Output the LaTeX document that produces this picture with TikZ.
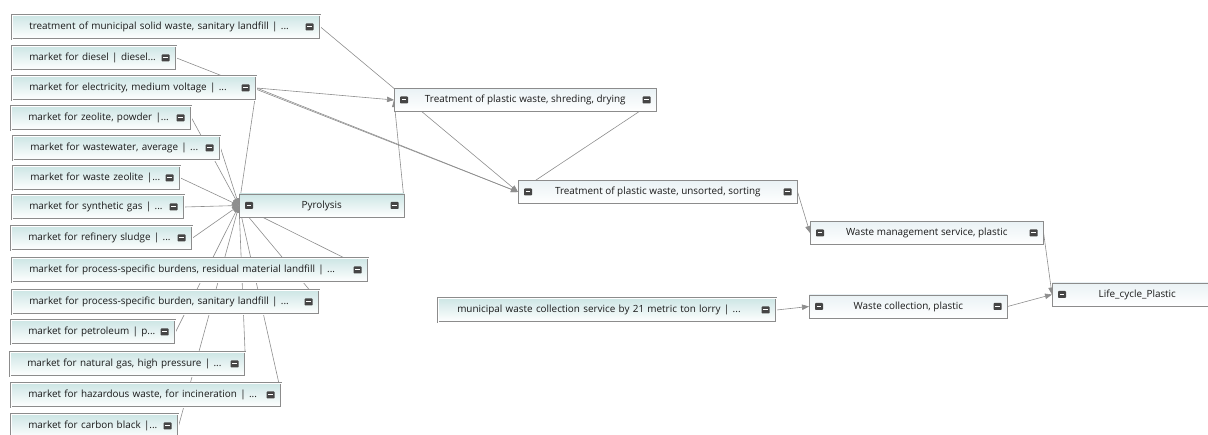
\documentclass[tikz,border=0pt]{standalone}
\usepackage{fontspec}
\setmainfont{Open Sans}
\usetikzlibrary{arrows.meta,calc,backgrounds}
\definecolor{ink}{HTML}{1A1A1A}
\definecolor{edgegray}{HTML}{8C8C8C}
\definecolor{linkgray}{HTML}{8E8E8E}
\definecolor{tealtop}{HTML}{CDE6E5}
\definecolor{lighttop}{HTML}{EAF2F5}
\definecolor{btngray}{HTML}{454545}
\newcommand{\minbtn}[1]{%
  \fill[btngray, rounded corners=0.8pt] ($(#1)+(-4,-3.5)$) rectangle ++(8,7);
  \draw[white, line width=1pt] ($(#1)+(-2.3,0)$) -- ++(4.6,0);}

\begin{document}
\begin{tikzpicture}[x=1pt, y=-1pt,
  font=\fontsize{9.9}{12}\selectfont, text=ink,
  srcbox/.style={draw=edgegray, double=white, double distance=0.9pt, line width=0.55pt,
                 top color=tealtop, bottom color=white, anchor=west, align=left,
                 inner xsep=0pt, inner ysep=0pt, minimum height=24pt},
  procbox/.style={draw=edgegray, line width=0.6pt, top color=lighttop, bottom color=white,
                  anchor=west, inner sep=0pt, minimum height=23pt},
  link/.style={-{Triangle[length=7pt,width=5.5pt]}, linkgray, line width=0.6pt}
]
  \clip (0,0) rectangle (1208,435);

  % inputs of the pyrolysis step
  \node[srcbox, text width=308pt] (msw)        at (12,27)  {\hspace*{17pt}treatment of municipal solid waste, sanitary landfill | ...};
  \node[srcbox, text width=164pt] (diesel)     at (12,58)  {\hspace*{17pt}market for diesel | diesel...};
  \node[srcbox, text width=244pt] (elec)       at (12,88)  {\hspace*{17pt}market for electricity, medium voltage | ...};
  \node[srcbox, text width=180pt] (zeolite)    at (11,118) {\hspace*{17pt}market for zeolite, powder |...};
  \node[srcbox, text width=207pt] (wastewater) at (13,148) {\hspace*{17pt}market for wastewater, average | ...};
  \node[srcbox, text width=167pt] (wzeolite)   at (13,178) {\hspace*{17pt}market for waste zeolite |...};
  \node[srcbox, text width=172pt] (syngas)     at (12,207) {\hspace*{17pt}market for synthetic gas | ...};
  \node[srcbox, text width=181pt] (sludge)     at (11,238) {\hspace*{17pt}market for refinery sludge | ...};
  \node[srcbox, text width=356pt] (residual)   at (12,270) {\hspace*{17pt}market for process-specific burdens, residual material landfill | ...};
  \node[srcbox, text width=307pt] (sanburden)  at (12,302) {\hspace*{17pt}market for process-specific burden, sanitary landfill | ...};
  \node[srcbox, text width=164pt] (petroleum)  at (11,332) {\hspace*{17pt}market for petroleum | p...};
  \node[srcbox, text width=235pt] (natgas)     at (10,364) {\hspace*{17pt}market for natural gas, high pressure | ...};
  \node[srcbox, text width=270pt] (hazwaste)   at (11,395) {\hspace*{17pt}market for hazardous waste, for incineration | ...};
  \node[srcbox, text width=167pt] (carbon)     at (11,426) {\hspace*{17pt}market for carbon black |...};
  \node[srcbox, text width=338pt] (lorry)      at (438,310) {\hspace*{19pt}municipal waste collection service by 21 metric ton lorry | ...};

  % process chain
  \node[procbox, minimum width=165pt, top color=tealtop] (pyro) at (239,205.5) {Pyrolysis};
  \node[procbox, minimum width=262pt] (shred)     at (394,100)   {Treatment of plastic waste, shreding, drying};
  \node[procbox, minimum width=279pt] (unsorted)  at (518,192)   {Treatment of plastic waste, unsorted, sorting};
  \node[procbox, minimum width=233pt] (wastemgmt) at (810,233)   {Waste management service, plastic};
  \node[procbox, minimum width=198pt] (collect)   at (809,306.5) {Waste collection, plastic};
  \node[procbox, minimum width=170pt] (lifecycle) at (1052,294.5) {Life\_cycle\_Plastic};

  \foreach \n in {msw,diesel,elec,zeolite,wastewater,wzeolite,syngas,sludge,residual,
                  sanburden,petroleum,natgas,hazwaste,carbon,lorry}
    {\minbtn{[xshift=-11pt]\n.east}}
  \foreach \n in {pyro,shred,unsorted,wastemgmt,collect,lifecycle}
    {\minbtn{[xshift=10pt]\n.west}}
  \foreach \n in {pyro,shred,unsorted,wastemgmt,collect}
    {\minbtn{[xshift=-10pt]\n.east}}

  \begin{scope}[on background layer]
    \foreach \s in {elec,zeolite,wastewater,wzeolite,syngas,sludge,residual,
                    sanburden,petroleum,natgas,hazwaste,carbon}
      {\draw[link] (\s.east) -- (pyro.west);}
    \draw[link] (msw.east)       -- (unsorted.west);
    \draw[link] (diesel.east)    -- (unsorted.west);
    \draw[link] (elec.east)      -- (unsorted.west);
    \draw[link] (elec.east)      -- (shred.west);
    \draw[link] (pyro.east)      -- (shred.west);
    \draw[link] (shred.east)     -- (unsorted.west);
    \draw[link] (unsorted.east)  -- (wastemgmt.west);
    \draw[link] (wastemgmt.east) -- (lifecycle.west);
    \draw[link] (collect.east)   -- (lifecycle.west);
    \draw[link] (lorry.east)     -- (collect.west);
  \end{scope}
\end{tikzpicture}
\end{document}
